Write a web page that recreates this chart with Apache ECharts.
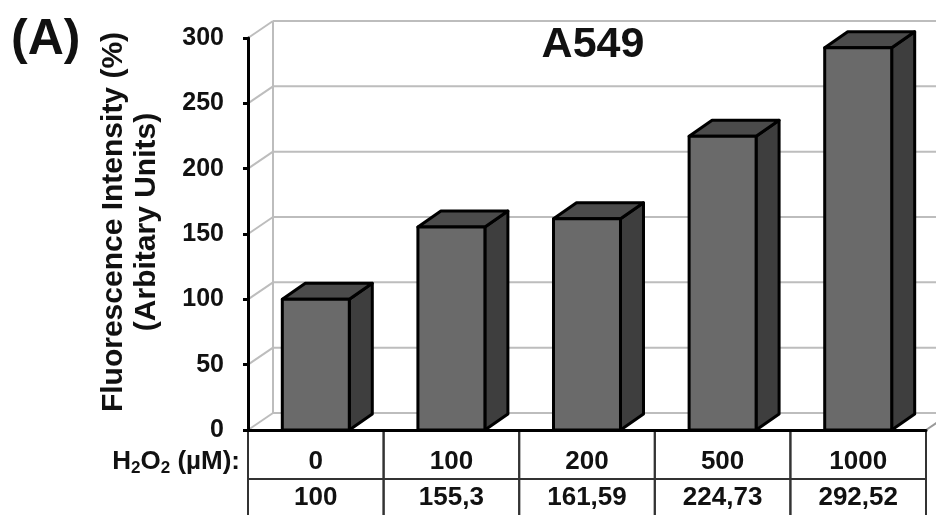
<!DOCTYPE html>
<html>
<head>
<meta charset="utf-8">
<script src="https://cdn.jsdelivr.net/npm/echarts@6/dist/echarts.min.js"></script>
<style>
  html, body { margin: 0; padding: 0; background: #fff; }
  #chart { width: 936px; height: 515px; }
</style>
</head>
<body>
<div id="chart"></div>
<script>
// H2O2 concentrations (µM) and mean fluorescence intensity (% of control)
const doses = ['0', '100', '200', '500', '1000'];
const intensity = [100, 155.3, 161.59, 224.73, 292.52];
const yTicks = [0, 50, 100, 150, 200, 250, 300];

const FONT = '"Liberation Sans", Arial, sans-serif';
// pseudo-3D depth offsets
const WALL_DX = 25, WALL_DY = -17;
const BAR_DX = 23, BAR_DY = -16;

const chart = echarts.init(document.getElementById('chart'));

// back wall, side wall and floor lines
function renderWalls(params, api) {
  const cs = params.coordSys;
  const x0 = cs.x, xEnd = cs.x + cs.width;
  const y = api.coord([0, api.value(1)])[1];
  const lineStyle = { stroke: '#bdbdbd', lineWidth: 2 };
  const children = [
    { type: 'line', shape: { x1: x0, y1: y, x2: x0 + WALL_DX, y2: y + WALL_DY }, style: lineStyle },
    { type: 'line', shape: { x1: x0 + WALL_DX, y1: y + WALL_DY, x2: xEnd + 60, y2: y + WALL_DY }, style: lineStyle }
  ];
  if (params.dataIndex === 0) {
    const yTop = api.coord([0, yTicks[yTicks.length - 1]])[1];
    children.push({ type: 'line', shape: { x1: x0 + WALL_DX, y1: y + WALL_DY, x2: x0 + WALL_DX, y2: yTop + WALL_DY }, style: lineStyle });
    children.push({ type: 'line', shape: { x1: xEnd, y1: y, x2: xEnd + WALL_DX, y2: y + WALL_DY }, style: { stroke: '#9a9a9a', lineWidth: 2 } });
  }
  return { type: 'group', children: children };
}

// box-shaped bars: front, side and top faces
function renderBar(params, api) {
  const i = api.value(0);
  const top = api.coord([i, api.value(1)]);
  const base = api.coord([i, 0]);
  const w = api.size([1, 0])[0] * 0.494;
  const x1 = top[0] - w / 2, x2 = top[0] + w / 2;
  const yT = top[1], yB = base[1];
  const edge = { stroke: '#000', lineWidth: 3, lineJoin: 'round' };
  return {
    type: 'group',
    children: [
      { type: 'polygon', shape: { points: [[x2, yT], [x2 + BAR_DX, yT + BAR_DY], [x2 + BAR_DX, yB + BAR_DY], [x2, yB]] },
        style: Object.assign({ fill: '#3e3e3e' }, edge) },
      { type: 'polygon', shape: { points: [[x1, yT], [x1 + BAR_DX, yT + BAR_DY], [x2 + BAR_DX, yT + BAR_DY], [x2, yT]] },
        style: Object.assign({ fill: '#4b4b4b' }, edge) },
      { type: 'rect', shape: { x: x1, y: yT, width: w, height: yB - yT },
        style: Object.assign({ fill: '#6a6a6a' }, edge) }
    ]
  };
}

// data table under the axis: dose row and value row
function renderTable(params, api) {
  const i = api.value(0);
  const c = api.coord([i, 0]);
  const colW = api.size([1, 0])[0];
  const xl = c[0] - colW / 2, xr = c[0] + colW / 2;
  const y0 = c[1];
  const rowY = y0 + 49;
  const line = { stroke: '#333', lineWidth: 2 };
  const txt = (s, y) => ({
    type: 'text',
    style: { text: s, x: c[0], y: y, align: 'center', verticalAlign: 'middle',
             font: 'bold 26px ' + FONT, fill: '#111' }
  });
  const valueText = String(api.value(1)).replace('.', ',');
  return {
    type: 'group',
    children: [
      { type: 'line', shape: { x1: xl, y1: y0, x2: xl, y2: 520 }, style: line },
      { type: 'line', shape: { x1: xr, y1: y0, x2: xr, y2: 520 }, style: line },
      { type: 'line', shape: { x1: xl, y1: rowY, x2: xr, y2: rowY }, style: line },
      txt(doses[i], y0 + 32),
      txt(valueText, y0 + 68)
    ]
  };
}

chart.setOption({
  animation: false,
  backgroundColor: '#fff',
  grid: { left: 248, right: 10, top: 38, bottom: 85 },
  xAxis: {
    type: 'category',
    data: doses,
    axisLine: { show: true, lineStyle: { color: '#000', width: 3 } },
    axisTick: { show: false },
    axisLabel: { show: false },
    splitLine: { show: false },
    z: 5
  },
  yAxis: {
    type: 'value',
    min: 0, max: 300, interval: 50,
    axisLine: { show: true, lineStyle: { color: '#000', width: 3 } },
    axisTick: { show: true, length: 5, lineStyle: { color: '#000', width: 3 } },
    axisLabel: { margin: 24, fontSize: 25, fontWeight: 'bold', color: '#111', fontFamily: FONT },
    splitLine: { show: false },
    z: 5
  },
  graphic: [
    { type: 'text', x: 11, y: 40,
      style: { text: '(A)', font: 'bold 50px ' + FONT, fill: '#111', align: 'left', verticalAlign: 'middle' } },
    { type: 'text', x: 593, y: 45,
      style: { text: 'A549', font: 'bold 43px ' + FONT, fill: '#111', align: 'center', verticalAlign: 'middle' } },
    { type: 'text', x: 114, y: 222, rotation: Math.PI / 2,
      style: { text: 'Fluorescence Intensity (%)', font: 'bold 30px ' + FONT, fill: '#111', align: 'center', verticalAlign: 'middle' } },
    { type: 'text', x: 147, y: 222, rotation: Math.PI / 2,
      style: { text: '(Arbitary Units)', font: 'bold 30px ' + FONT, fill: '#111', align: 'center', verticalAlign: 'middle' } },
    { type: 'text', x: 240, y: 462,
      style: {
        text: '{m|H}{s|2}{m|O}{s|2}{m| (µM):}',
        align: 'right', verticalAlign: 'middle',
        rich: {
          m: { fontSize: 26, fontWeight: 'bold', fontFamily: FONT, fill: '#111', lineHeight: 30 },
          s: { fontSize: 17, fontWeight: 'bold', fontFamily: FONT, fill: '#111', lineHeight: 12, verticalAlign: 'bottom' }
        }
      } }
  ],
  series: [
    { type: 'custom', name: 'walls', renderItem: renderWalls, data: yTicks.map(v => [0, v]), z: 1, silent: true },
    { type: 'custom', name: 'Fluorescence', renderItem: renderBar, data: intensity.map((v, i) => [i, v]), z: 3 },
    { type: 'custom', name: 'table', renderItem: renderTable, data: intensity.map((v, i) => [i, v]), z: 4, silent: true }
  ]
});
</script>
</body>
</html>
